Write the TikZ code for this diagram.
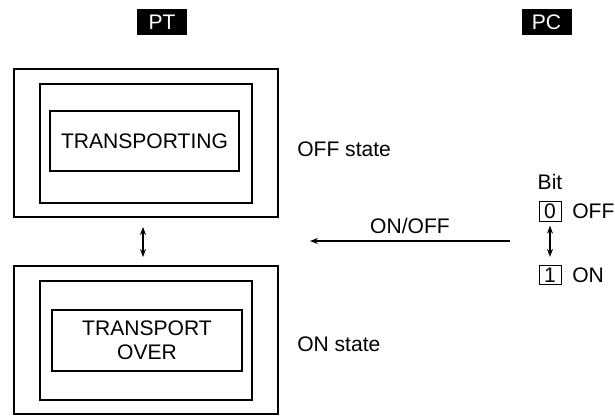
\documentclass[tikz,border=0pt]{standalone}
\usepackage{fontspec}
\setmainfont{Liberation Sans}
\usetikzlibrary{arrows.meta}
\tikzset{
  frame/.style={draw, line width=0.9pt, inner sep=0pt},
  label/.style={font=\fontsize{15.8}{18}\selectfont, inner sep=0pt},
  tag/.style={label, fill=black, text=white, minimum width=37.5pt, minimum height=19.5pt},
  bitbox/.style={draw, line width=0.7pt, label, minimum width=16.5pt, minimum height=14.5pt},
  flow/.style={line width=0.8pt, -{Stealth[length=6pt,width=4.5pt]}},
  toggle/.style={line width=0.8pt, {Stealth[length=6pt,width=4.5pt]}-{Stealth[length=6pt,width=4.5pt]}},
}

\begin{document}
\begin{tikzpicture}[x=0.75pt, y=-0.75pt]
    \useasboundingbox (0,0) rectangle (615,415);
    % headings
    \node[tag] (pt) at (162,22) {PT};
    \node[tag] (pc) at (546.5,22) {PC};
    % screen, OFF state
    \node[frame, minimum width=198pt, minimum height=111pt] (offouter) at (146,143) {};
    \node[frame, minimum width=159pt, minimum height=89.25pt] (offmid) at (146,143.5) {};
    \node[frame, label, minimum width=141.75pt, minimum height=45pt] (offmsg) at (144.5,141) {TRANSPORTING};
    \node[label, anchor=west] (offtxt) at (297,149) {OFF state};
    % screen, ON state
    \node[frame, minimum width=198pt, minimum height=111pt] (onouter) at (146,340) {};
    \node[frame, minimum width=159pt, minimum height=89.25pt] (onmid) at (146,340.5) {};
    \node[frame, label, align=center, minimum width=142.5pt, minimum height=45.75pt] (onmsg) at (147,340.5) {TRANSPORT\\OVER};
    \node[label, anchor=west] (ontxt) at (297,344) {ON state};
    \coordinate (s1) at (143,227);
    \coordinate (s2) at (143,257);
    \draw[toggle] (s1) -- (s2);
    % bit on PC side
    \node[label] (bit) at (550,182) {Bit};
    \node[bitbox] (b0) at (550,211.5) {0};
    \node[label, anchor=west] (boff) at (572,211.5) {OFF};
    \node[bitbox] (b1) at (550,275) {1};
    \node[label, anchor=west] (bon) at (572,275) {ON};
    \draw[toggle] ([yshift=-3pt]b0.south) -- ([yshift=6pt]b1.north);
    \coordinate (w1) at (510,241);
    \coordinate (w2) at (310,241);
    \draw[flow] (w1) -- (w2) node[label, midway, above=5pt] (onoff) {ON/OFF};
  \end{tikzpicture}
\end{document}
